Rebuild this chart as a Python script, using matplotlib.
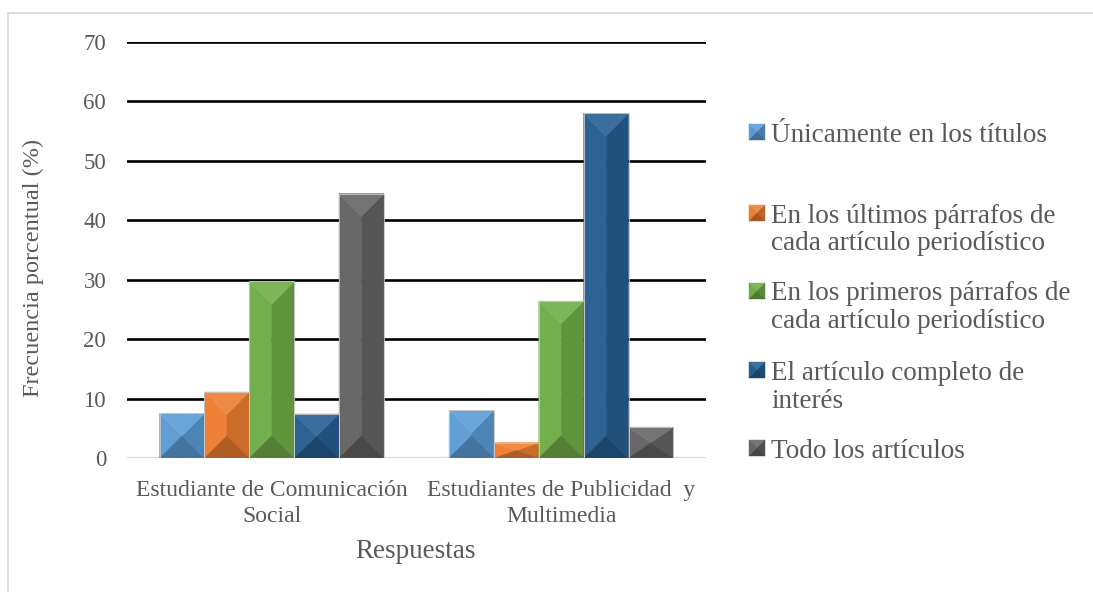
import matplotlib
matplotlib.use("Agg")
import matplotlib.pyplot as plt
from matplotlib.patches import Polygon, Rectangle
from matplotlib.lines import Line2D
import matplotlib.colors as mcolors
import numpy as np

categories = ["Estudiante de Comunicación\nSocial", "Estudiantes de Publicidad  y\nMultimedia"]
series = ["Únicamente en los títulos",
          "En los últimos párrafos de\ncada artículo periodístico",
          "En los primeros párrafos de\ncada artículo periodístico",
          "El artículo completo de\ninterés",
          "Todo los artículos"]
values = [
    [7.5, 8.0],     # Únicamente en los títulos
    [11.1, 2.6],    # En los últimos párrafos
    [29.7, 26.4],   # En los primeros párrafos
    [7.4, 58.0],    # El artículo completo
    [44.5, 5.2],    # Todo los artículos
]
colors = ["#5B9BD5", "#ED7D31", "#70AD47", "#255E91", "#636363"]
yticks = [0, 10, 20, 30, 40, 50, 60, 70]

W, H = 1093, 592
FONT = "Liberation Serif"
TXT = "#595959"
plt.rcParams['font.family'] = [FONT, 'DejaVu Serif']

fig = plt.figure(figsize=(W / 100, H / 100), dpi=100)
fig.patch.set_facecolor("white")

def px(x, y):
    return x / W, 1 - y / H

# outer frame
fig.add_artist(Line2D([8 / W, 8 / W], [0, 1 - 13 / H], color="#d9d9d9", lw=1.2, transform=fig.transFigure))
fig.add_artist(Line2D([8 / W, 1], [1 - 13 / H, 1 - 13 / H], color="#d9d9d9", lw=1.2, transform=fig.transFigure))

ax_l, ax_r, ax_t, ax_b = 127, 706, 42, 458
ax = fig.add_axes([ax_l / W, 1 - ax_b / H, (ax_r - ax_l) / W, (ax_b - ax_t) / H])
ax.set_xlim(-0.5, 1.5)
ax.set_ylim(0, 70)
for s in ax.spines.values():
    s.set_visible(False)

for t in yticks:
    if t == 0:
        ax.axhline(t, color="#d9d9d9", lw=1.6, zorder=1)
    else:
        ax.axhline(t, color="black", lw=1.9, zorder=1)

def shade(c, f):
    r, g, b = mcolors.to_rgb(c)
    if f >= 1:
        return (r + (1 - r) * (f - 1), g + (1 - g) * (f - 1), b + (1 - b) * (f - 1))
    return (r * f, g * f, b * f)

bw = 0.155
xs = np.arange(len(categories))
units_y_per_px = 70 / (ax_b - ax_t)
units_x_per_px = 2.0 / (ax_r - ax_l)
for i, (vals, c) in enumerate(zip(values, colors)):
    for j, v in enumerate(vals):
        x0 = xs[j] + (i - 2.5) * bw
        x1 = x0 + bw
        xc = (x0 + x1) / 2
        half_px = (bw / 2) / units_x_per_px
        bv = min(half_px * units_y_per_px, v / 2)
        faces = [
            ([(x0, 0), (x0, v), (xc, v - bv), (xc, bv)], shade(c, 1.03)),
            ([(x1, 0), (x1, v), (xc, v - bv), (xc, bv)], shade(c, 0.86)),
            ([(x0, 0), (x1, 0), (xc, bv)], shade(c, 0.74)),
            ([(x0, v), (x1, v), (xc, v - bv)], shade(c, 1.1)),
        ]
        for pts, fc in faces:
            ax.add_patch(Polygon(pts, closed=True, facecolor=fc, edgecolor=fc, lw=0.3, zorder=3))
        ax.add_patch(Rectangle((x0, 0), bw, v, fill=False, edgecolor="#c8c8c8", lw=0.6, zorder=4))

ax.set_yticks(yticks)
ax.set_yticklabels([str(t) for t in yticks], fontsize=16.5, color=TXT)
ax.set_xticks(xs)
ax.set_xticklabels(categories, fontsize=17, color=TXT, linespacing=1.28)
ax.tick_params(axis="y", length=0, pad=15)
ax.tick_params(axis="x", length=0, pad=16)

fig.text(33 / W, 1 - 268 / H, "Frecuencia porcentual (%)", rotation=90, ha="center", va="center",
         fontsize=17.5, color=TXT)
fig.text(416 / W, 1 - 551 / H, "Respuestas", ha="center", va="center", fontsize=19.5, color=TXT)

# legend (manual)
centers = [132, 213, 291, 370, 448]
line_gap = 28
for lab, c, yc in zip(series, colors, centers):
    x0, x1 = 749, 765
    y0, y1 = yc - 8, yc + 8
    xm, ym = (x0 + x1) / 2, (y0 + y1) / 2
    P = px
    faces = [
        ([P(x0, y0), P(x1, y0), P(xm, ym)], shade(c, 1.12)),
        ([P(x0, y0), P(x0, y1), P(xm, ym)], shade(c, 1.0)),
        ([P(x1, y0), P(x1, y1), P(xm, ym)], shade(c, 0.8)),
        ([P(x0, y1), P(x1, y1), P(xm, ym)], shade(c, 0.7)),
    ]
    for pts, fc in faces:
        fig.add_artist(Polygon(pts, closed=True, facecolor=fc, edgecolor=fc, lw=0.3, transform=fig.transFigure))
    for k, line in enumerate(lab.split("\n")):
        fig.text(771 / W, 1 - (yc + k * line_gap) / H, line, ha="left", va="center_baseline",
                 fontsize=19.5, color=TXT)

fig.savefig("out.png", dpi=100, facecolor="white")
